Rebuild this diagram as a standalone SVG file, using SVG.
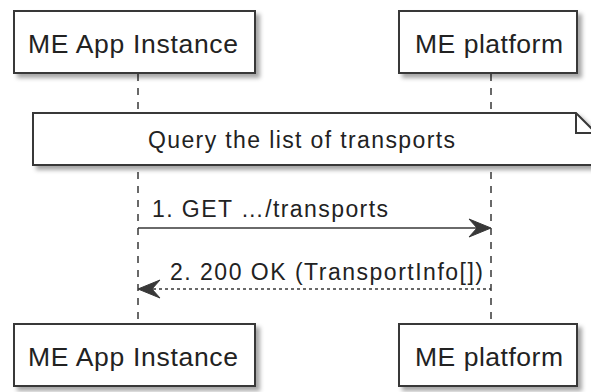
<svg xmlns="http://www.w3.org/2000/svg" width="591" height="392" viewBox="0 0 591 392">
  <style>
    .box { fill: #ffffff; stroke: #383838; stroke-width: 2; }
    .lifeline { stroke: #383838; stroke-width: 1.5; stroke-dasharray: 7 7; fill: none; }
    .msg { stroke: #383838; stroke-width: 1.5; fill: none; }
    .reply { stroke: #383838; stroke-width: 1.5; stroke-dasharray: 3 3; fill: none; }
    .head { fill: #383838; stroke: #383838; stroke-width: 1; }
    .ptext { font-family: "Liberation Sans", Arial, sans-serif; font-size: 26.5px; fill: #222222; }
    .mtext { font-family: "Liberation Sans", Arial, sans-serif; font-size: 23px; fill: #222222; }
  </style>
  <defs>
    <filter id="shadow" x="-10%" y="-20%" width="130%" height="160%">
      <feGaussianBlur in="SourceAlpha" stdDeviation="2"/>
      <feOffset dx="4" dy="4" result="blur"/>
      <feFlood flood-color="#000000" flood-opacity="0.35"/>
      <feComposite in2="blur" operator="in"/>
      <feMerge>
        <feMergeNode/>
        <feMergeNode in="SourceGraphic"/>
      </feMerge>
    </filter>
  </defs>

  <rect width="591" height="392" fill="#ffffff"/>

  <!-- lifelines -->
  <g id="lifelines">
    <line class="lifeline" x1="138" y1="74" x2="138" y2="324"/>
    <line class="lifeline" x1="491" y1="74" x2="491" y2="324"/>
  </g>

  <!-- participants, top -->
  <g id="app-top">
    <rect class="box" x="14" y="11" width="241" height="62" filter="url(#shadow)"/>
    <text class="ptext" x="28" y="53" textLength="210" lengthAdjust="spacing">ME App Instance</text>
  </g>
  <g id="platform-top">
    <rect class="box" x="399" y="11" width="178" height="62" filter="url(#shadow)"/>
    <text class="ptext" x="415" y="53" textLength="148" lengthAdjust="spacing">ME platform</text>
  </g>

  <!-- note across both lifelines -->
  <g id="note">
    <path class="box" d="M33,113 H576 L596,133 V165 H33 Z" filter="url(#shadow)"/>
    <path d="M576,113 V133 H596" fill="none" stroke="#383838" stroke-width="2"/>
    <text class="mtext" x="148" y="148" textLength="307" lengthAdjust="spacing">Query the list of transports</text>
  </g>

  <!-- messages -->
  <g id="connectors">
    <g id="msg1">
      <line class="msg" x1="138" y1="228" x2="488" y2="228"/>
      <polygon class="head" points="469,219 491,228 469,237 477,228"/>
      <text class="mtext" x="152" y="217" textLength="236" lengthAdjust="spacing">1. GET …/transports</text>
    </g>
    <g id="msg2">
      <line class="reply" x1="141" y1="289" x2="491" y2="289"/>
      <polygon class="head" points="160,280 138,289 160,298 152,289"/>
      <text class="mtext" x="170" y="280" textLength="313" lengthAdjust="spacing">2. 200 OK (TransportInfo[])</text>
    </g>
  </g>

  <!-- participants, bottom -->
  <g id="app-bottom">
    <rect class="box" x="14" y="324" width="241" height="62" filter="url(#shadow)"/>
    <text class="ptext" x="28" y="366" textLength="210" lengthAdjust="spacing">ME App Instance</text>
  </g>
  <g id="platform-bottom">
    <rect class="box" x="399" y="324" width="178" height="62" filter="url(#shadow)"/>
    <text class="ptext" x="415" y="366" textLength="148" lengthAdjust="spacing">ME platform</text>
  </g>
</svg>
